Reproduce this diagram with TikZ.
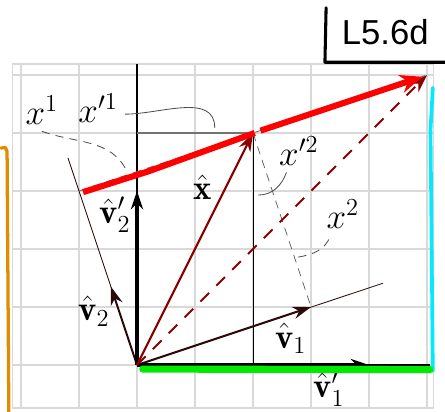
\documentclass[tikz,border=0pt]{standalone}
\usepackage{fontspec}
\newfontfamily\handfont{Liberation Sans}
\usetikzlibrary{arrows.meta}
\definecolor{handorange}{RGB}{225,140,0}
\definecolor{handcyan}{RGB}{0,235,255}
\definecolor{handgreen}{RGB}{0,235,0}
\definecolor{vecbrown}{RGB}{45,10,10}
\begin{document}
\begin{tikzpicture}[every node/.style={font=\fontsize{17}{20}\selectfont},
  vec/.style={-{Stealth[length=9pt,width=6pt]}, line width=1pt},
  lead/.style={line width=0.4pt, black!70},
  hand/.style={line cap=round, line join=round}]
\useasboundingbox (-2.362,-0.810) rectangle (5.310,6.293);
\draw[gray!30, line width=0.6pt] (-2.15,-0.74) grid (5.11,5.19);
\draw[gray!30, line width=0.6pt] (-2.15,-0.74) rectangle (5.11,5.19);
\coordinate (O) at (0,0);
\coordinate (X) at (2,4);
\coordinate (A) at (-1,3);
\coordinate (B) at (5,5);
\coordinate (P) at (3,1);
\draw[line width=0.6pt] (O) -- (0,5.19);
\draw[line width=0.6pt] (O) -- (5.05,0);
\draw[vecbrown, line width=0.4pt] (O) -- (4.24,1.41);
\draw[vecbrown, line width=0.4pt] (O) -- (-1.19,3.57);
\draw[line width=0.5pt] (2,0) -- (X);
\draw[black!55, line width=0.9pt] (0,4) -- (X);
\draw[black!60, dash pattern=on 4pt off 3pt, line width=0.4pt] (X) -- (P);
\draw[black!60, dash pattern=on 4pt off 3pt, line width=0.4pt] (A) -- (B);
\draw[vec, vecbrown] (O) -- (P);
\draw[vec, vecbrown] (O) -- (-0.45,1.35);
\draw[vec, line width=1.5pt] (O) -- (0,3);
\draw[vec, line width=1.5pt] (O) -- (4,0);
\draw[vec, red!55!black] (O) -- (X);
\draw[vec, red!55!black, dash pattern=on 6pt off 5pt] (O) -- (B);
\draw[red, line width=3pt, line cap=butt] (-0.93,2.98) -- (0.2,3.34) -- (2.03,4.0);
\draw[red, line width=3pt, -{Stealth[length=11pt,width=9pt]}] (2.13,4.04) -- (4.92,4.97);
\node (x1) at (-1.64,4.40) {$x^1$};
\node (xp1) at (-0.67,4.43) {$x'^1$};
\node (xp2) at (2.79,3.69) {$x'^2$};
\node (x2) at (3.55,2.60) {$x^2$};
\node (xh) at (1.13,3.07) {$\hat{\mathbf{x}}$};
\node (v2p) at (-0.38,2.59) {$\hat{\mathbf{v}}'_2$};
\node (v2) at (-0.74,0.93) {$\hat{\mathbf{v}}_2$};
\node (v1) at (2.65,0.46) {$\hat{\mathbf{v}}_1$};
\node (v1p) at (3.31,-0.41) {$\hat{\mathbf{v}}'_1$};
\coordinate (c1) at (-0.17,3.33);
\coordinate (c2) at (1.34,4.09);
\coordinate (c3) at (2.09,2.93);
\coordinate (c4) at (2.78,1.86);
\draw[lead, dash pattern=on 4pt off 3pt] (x1.south) to[out=-20,in=115] (c1);
\draw[lead] ([yshift=-3pt]xp1.east) to[out=0,in=90] (c2);
\draw[lead] (c3) to[out=0,in=-110] (xp2.240);
\draw[lead, dash pattern=on 4pt off 3pt] (c4) to[out=10,in=-110] (x2.240);
\draw[handorange, line width=1.6pt, hand] (-2.345,3.74) -- (-2.27,3.75) -- (-2.24,3.68) -- (-2.21,-0.81);
\draw[handcyan, line width=1.8pt, hand] (5.1,4.78) -- (5.06,4.05) -- (5.1,-0.1);
\draw[handgreen, line width=3.5pt, hand] (0.1,-0.07) -- (5.05,-0.08);
\draw[line width=1.5pt, hand] (3.26,6.16) -- (3.24,5.22) -- (5.31,5.22);
\node (tag) at (4.28,5.74) {\fontsize{17}{20}\selectfont\handfont L5.6d};
\end{tikzpicture}
\end{document}
